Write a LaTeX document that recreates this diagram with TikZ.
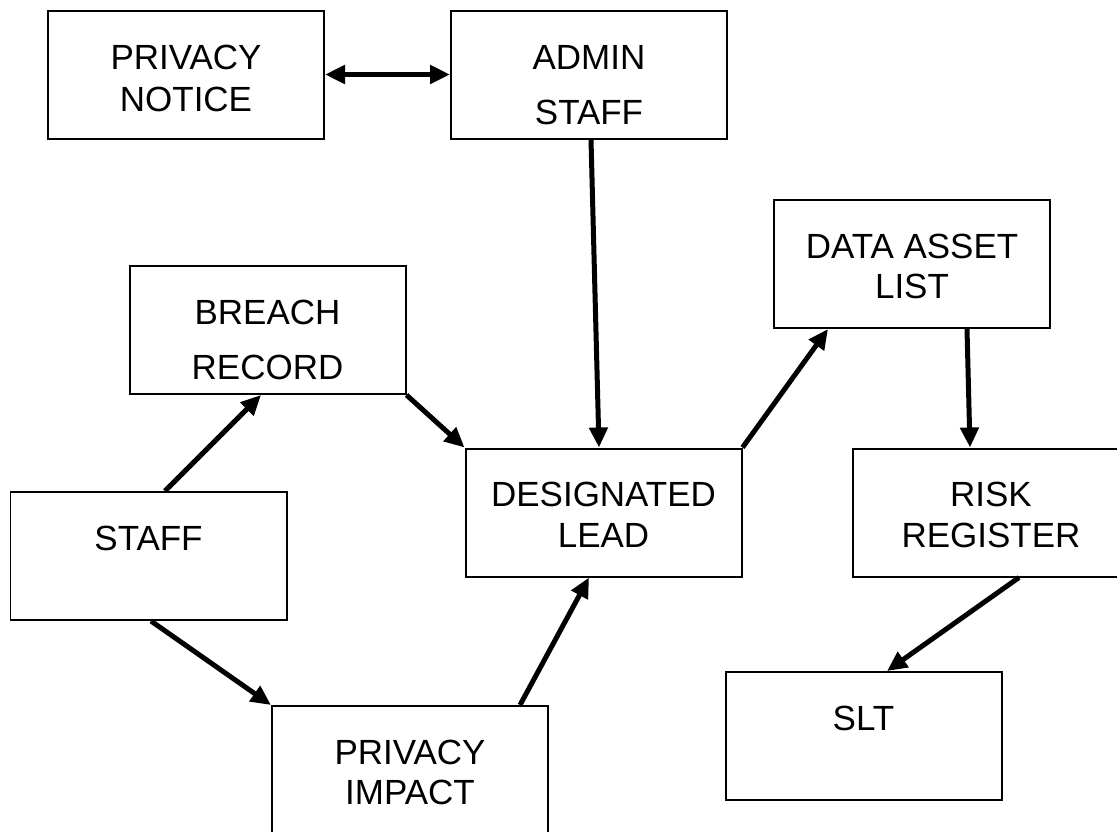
\documentclass[tikz,border=0pt]{standalone}
\usepackage{fontspec}
\setmainfont{Liberation Sans}
\usepackage{tikz}
\usetikzlibrary{arrows.meta}
\tikzstyle{stage}=[rectangle,draw=black,line width=0.04cm,inner sep=0mm,minimum width=5.52cm,minimum height=2.56cm,text height=1.17cm,text depth=1.39cm,align=center,font=\fontsize{19.9}{22.8}\selectfont]
\tikzstyle{stack}=[stage,text height=1.97cm,text depth=0.59cm]
\tikzstyle{widestack}=[stage,text height=2.27cm,text depth=0.29cm]
\tikzstyle{link}=[-{Triangle[length=0.4cm,width=0.36cm]},line width=0.1cm]
\tikzstyle{twoway}=[{Triangle[length=0.4cm,width=0.36cm]}-{Triangle[length=0.4cm,width=0.36cm]},line width=0.1cm]

\begin{document}
\begin{tikzpicture}
      \useasboundingbox (0,0) rectangle (22.34,-16.62);
      \node[stack,text height=2.01cm,text depth=0.55cm] at (3.72,-1.49) (notice) {PRIVACY\\[1.1pt]NOTICE};
      \node[widestack] at (11.78,-1.49) (admin) {ADMIN\\[8.5pt]STAFF};
      \node[stack] at (18.24,-5.28) (assets) {DATA ASSET\\LIST};
      \node[widestack] at (5.35,-6.60) (breach) {BREACH\\[8.5pt]RECORD};
      \node[stack] at (12.07,-10.25) (lead) {DESIGNATED\\LEAD};
      \node[stack] at (19.82,-10.25) (risk) {RISK\\REGISTER};
      \node[stage] at (2.97,-11.12) (staff) {STAFF};
      \node[stack] at (8.20,-15.40) (impact) {PRIVACY\\IMPACT};
      \node[stage] at (17.27,-14.72) (slt) {SLT};
      \draw[twoway] (notice.east) -- (admin.west);
      \draw[link] ([xshift=0.04cm]admin.south) -- ([xshift=-0.09cm]lead.north);
      \draw[link] (breach.south east) -- (lead.north west);
      \draw[link] ([xshift=0.33cm]staff.north) -- ([xshift=-0.13cm]breach.south);
      \draw[link] ([xshift=0.05cm]staff.south) -- (impact.north west);
      \draw[link] ([xshift=2.2cm]impact.north) -- ([xshift=-0.29cm]lead.south);
      \draw[link] (lead.north east) -- ([xshift=-1.68cm]assets.south);
      \draw[link] ([xshift=1.1cm]assets.south) -- ([xshift=-0.42cm]risk.north);
      \draw[link] ([xshift=0.56cm]risk.south) -- ([xshift=0.47cm]slt.north);
    \end{tikzpicture}
\end{document}
